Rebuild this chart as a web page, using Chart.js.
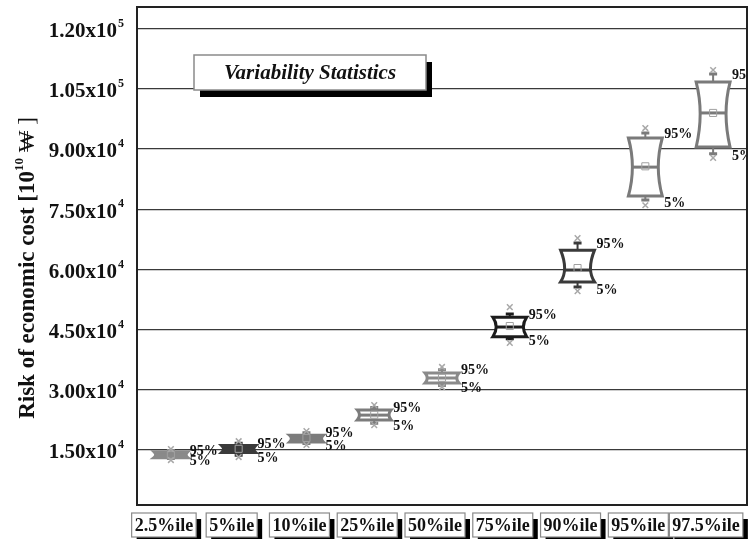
<!DOCTYPE html>
<html>
<head>
<meta charset="utf-8">
<script src="https://cdn.jsdelivr.net/npm/chart.js@4.4.0/dist/chart.umd.min.js"></script>
<style>
  html, body { margin: 0; padding: 0; background: #fff; }
  #wrap { width: 756px; height: 539px; }
</style>
</head>
<body>
<div id="wrap"><canvas id="myChart"></canvas></div>
<script>
// data
const categories = ["2.5%ile", "5%ile", "10%ile", "25%ile", "50%ile", "75%ile", "90%ile", "95%ile", "97.5%ile"];
const minMark = [12500, 13250, 16250, 21200, 30700, 41700, 54600, 76000, 87800];
const whiskerLow = [12900, 13700, 16600, 21700, 31100, 42700, 55600, 77300, 88800];
const q1 = [13100, 14400, 17000, 22500, 31700, 43200, 56900, 78300, 90500];
const median = [13750, 15250, 17900, 23700, 32950, 45650, 59850, 85500, 99000];
const mean = [13800, 15300, 18000, 23800, 33000, 45900, 60350, 85700, 99000];
const q3 = [14600, 16100, 18700, 25000, 34200, 48100, 64800, 92750, 106700];
const whiskerHigh = [14900, 16700, 19300, 25600, 35000, 48900, 66600, 94000, 108700];
const maxMark = [15250, 17200, 19700, 26200, 35700, 50600, 67800, 95240, 109700];
const yTicks = [15000, 30000, 45000, 60000, 75000, 90000, 105000, 120000];

const boxColors = ["#8a8a8a", "#3a3a3a", "#7c7c7c", "#7c7c7c", "#8a8a8a", "#1c1c1c", "#3a3a3a", "#7a7a7a", "#7a7a7a"];
const serif = '"Liberation Serif", "Times New Roman", serif';

const boxPlugin = {
  id: "boxPlugin",
  beforeDatasetsDraw(chart) {
    const ctx = chart.ctx;
    const x = chart.scales.x, y = chart.scales.y;
    const area = chart.chartArea;
    const step = x.getPixelForValue(1) - x.getPixelForValue(0);
    const w = step * 0.5;
    ctx.save();
    ctx.beginPath();
    ctx.rect(area.left, area.top, area.right - area.left, area.bottom - area.top);
    ctx.clip();
    categories.forEach((c, i) => {
      const cx = x.getPixelForValue(i);
      const col = boxColors[i];
      const yTop = y.getPixelForValue(q3[i]);
      const yBot = y.getPixelForValue(q1[i]);
      const yMed = y.getPixelForValue(median[i]);
      const yHi = y.getPixelForValue(whiskerHigh[i]);
      const yLo = y.getPixelForValue(whiskerLow[i]);
      const l = cx - w / 2, r = cx + w / 2;
      ctx.strokeStyle = col;
      // whiskers
      ctx.lineWidth = 2;
      ctx.beginPath();
      ctx.moveTo(cx, yTop); ctx.lineTo(cx, yHi);
      ctx.moveTo(cx, yBot); ctx.lineTo(cx, yLo);
      ctx.stroke();
      ctx.lineWidth = 3;
      ctx.beginPath();
      ctx.moveTo(cx - 4, yHi); ctx.lineTo(cx + 4, yHi);
      ctx.moveTo(cx - 4, yLo); ctx.lineTo(cx + 4, yLo);
      ctx.stroke();
      // hourglass box
      const h = yBot - yTop;
      const d = Math.min(4, 1 + h * 0.12);
      ctx.beginPath();
      ctx.moveTo(l, yTop);
      ctx.lineTo(r, yTop);
      ctx.quadraticCurveTo(r - 2 * d, yMed, r, yBot);
      ctx.lineTo(l, yBot);
      ctx.quadraticCurveTo(l + 2 * d, yMed, l, yTop);
      ctx.closePath();
      ctx.fillStyle = h < 9 ? col : "#fff";
      ctx.fill();
      ctx.lineWidth = 3;
      ctx.stroke();
      // median
      ctx.beginPath();
      ctx.moveTo(l + d, yMed); ctx.lineTo(r - d, yMed);
      ctx.stroke();
      // 95% / 5% labels
      ctx.fillStyle = "#111";
      ctx.font = "bold 14px " + serif;
      ctx.textAlign = "left";
      ctx.textBaseline = "middle";
      ctx.fillText("95%", r + 2, yHi + 1);
      ctx.fillText("5%", r + 2, yLo + 3);
    });
    ctx.restore();
  },
  afterDatasetsDraw(chart) {
    // "Variability Statistics" box
    const ctx = chart.ctx;
    const area = chart.chartArea;
    const bx = area.left + 57, by = area.top + 48, bw = 232, bh = 35;
    ctx.save();
    ctx.fillStyle = "#000";
    ctx.fillRect(bx + 6, by + 7, bw, bh);
    ctx.fillStyle = "#fff";
    ctx.fillRect(bx, by, bw, bh);
    ctx.strokeStyle = "#8a8a8a";
    ctx.lineWidth = 1.5;
    ctx.strokeRect(bx, by, bw, bh);
    ctx.fillStyle = "#111";
    ctx.font = "italic bold 21px " + serif;
    ctx.textAlign = "center";
    ctx.textBaseline = "middle";
    ctx.fillText("Variability Statistics", bx + bw / 2, by + bh / 2 + 1);
    ctx.restore();
  },
  afterDraw(chart) {
    const ctx = chart.ctx;
    const area = chart.chartArea;
    const x = chart.scales.x, y = chart.scales.y;
    ctx.save();
    // frame
    ctx.strokeStyle = "#222";
    ctx.lineWidth = 2;
    ctx.strokeRect(area.left, area.top, area.right - area.left, area.bottom - area.top);
    // y tick labels with exponents
    ctx.fillStyle = "#111";
    ctx.textBaseline = "middle";
    yTicks.forEach(v => {
      const py = y.getPixelForValue(v);
      const parts = v.toExponential(2).split("e+");
      const right = area.left - 20;
      ctx.font = "bold 21px " + serif;
      ctx.textAlign = "right";
      ctx.fillText(parts[0] + "x10", right, py + 3);
      ctx.font = "bold 12px " + serif;
      ctx.textAlign = "left";
      ctx.fillText(parts[1], right + 1, py - 5);
    });
    // y axis title, rotated, with superscript
    const pieces = [
      { t: "Risk of economic cost [10", f: "bold 23px " + serif, dy: 0 },
      { t: "10", f: "bold 13px " + serif, dy: -8 },
      { t: " ₩ ]", f: "23px " + serif, dy: 0 },
    ];
    let total = 0;
    pieces.forEach(p => { ctx.font = p.f; p.w = ctx.measureText(p.t).width; total += p.w; });
    ctx.translate(28, (area.top + area.bottom) / 2 + 12);
    ctx.rotate(-Math.PI / 2);
    ctx.textAlign = "left";
    ctx.textBaseline = "middle";
    let px = -total / 2;
    pieces.forEach(p => {
      ctx.font = p.f;
      ctx.fillText(p.t, px, p.dy);
      px += p.w;
    });
    ctx.setTransform(1, 0, 0, 1, 0, 0);
    // boxed category labels
    ctx.font = "bold 18px " + serif;
    categories.forEach((c, i) => {
      const cx = x.getPixelForValue(i) - 7;
      const tw = ctx.measureText(c).width;
      const bw = tw + 6, bh = 24;
      const bx = cx - bw / 2, by = area.bottom + 8;
      ctx.fillStyle = "#000";
      ctx.fillRect(bx + 5, by + 6, bw, bh);
      ctx.fillStyle = "#fff";
      ctx.fillRect(bx, by, bw, bh);
      ctx.strokeStyle = "#8a8a8a";
      ctx.lineWidth = 1.2;
      ctx.strokeRect(bx, by, bw, bh);
      ctx.fillStyle = "#111";
      ctx.textAlign = "center";
      ctx.textBaseline = "middle";
      ctx.fillText(c, cx, by + bh / 2 + 1);
    });
    ctx.restore();
  }
};

const ctx = document.getElementById("myChart").getContext("2d");
const myChart = new Chart(ctx, {
  type: "line",
  data: {
    labels: categories,
    datasets: [
      {
        label: "max",
        data: maxMark,
        showLine: false,
        pointStyle: "crossRot",
        pointRadius: 4,
        borderColor: "#a8a8a8",
        borderWidth: 1.5,
      },
      {
        label: "min",
        data: minMark,
        showLine: false,
        pointStyle: "crossRot",
        pointRadius: 4,
        borderColor: "#a8a8a8",
        borderWidth: 1.5,
      },
      {
        label: "mean",
        data: mean,
        showLine: false,
        pointStyle: "rect",
        pointRadius: 5,
        borderColor: "#a0a0a0",
        backgroundColor: "rgba(255,255,255,0)",
        borderWidth: 1,
      },
    ],
  },
  options: {
    responsive: true,
    maintainAspectRatio: false,
    animation: false,
    layout: { padding: { top: 7, right: 9, left: 0, bottom: 0 } },
    plugins: { legend: { display: false }, tooltip: { enabled: false } },
    scales: {
      x: {
        type: "category",
        offset: true,
        grid: { display: false },
        border: { display: false },
        ticks: { color: "rgba(0,0,0,0)" },
        afterFit(scale) { scale.height = 34; },
      },
      y: {
        min: 1300,
        max: 125400,
        grid: { color: "#3a3a3a", lineWidth: 1.3, drawTicks: false },
        border: { display: false },
        ticks: { display: false },
        afterBuildTicks(scale) { scale.ticks = yTicks.map(v => ({ value: v })); },
        afterFit(scale) { scale.width = 137; },
      },
    },
  },
  plugins: [boxPlugin],
});
</script>
</body>
</html>
